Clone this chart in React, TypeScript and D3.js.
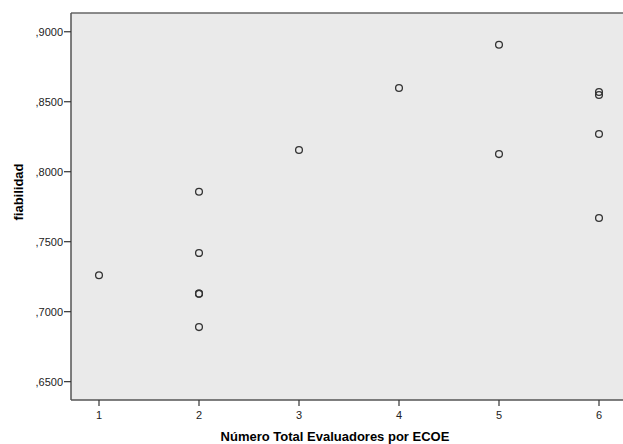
import React from "react";
import * as d3 from "d3";

const xValues = [1, 2, 2, 2, 2, 2, 3, 4, 5, 5, 6, 6, 6, 6];
const yValues = [0.726, 0.7857, 0.7419, 0.7129, 0.7129, 0.689, 0.8155, 0.8598, 0.8907, 0.8126, 0.857, 0.8548, 0.8269, 0.7669];
const xTicks = [1, 2, 3, 4, 5, 6];
const yTicks = [0.65, 0.7, 0.75, 0.8, 0.85, 0.9];
const xTitle = "Número Total Evaluadores por ECOE";
const yTitle = "fiabilidad";

const W = 623;
const H = 444;
const left = 71;
const top = 13;
const bottom = 400;
const right = 627;

export default function App() {
  const x = d3.scaleLinear().domain([0.72, 6.28]).range([left, right]);
  const y = d3.scaleLinear().domain([0.6369, 0.9134]).range([bottom, top]);
  const fmt = (v: number) => "," + d3.format(".4f")(v).split(".")[1];
  const font = "'Liberation Sans', Arial, sans-serif";
  return (
    <svg width={W} height={H} style={{ position: "absolute", left: 0, top: 0 }}>
      <rect x={0} y={0} width={W} height={H} fill="#ffffff" />
      <rect x={left} y={top} width={right - left} height={bottom - top} fill="#eaeaea" />
      <line x1={left} y1={top} x2={right} y2={top} stroke="#666" strokeWidth={1.5} />
      <line x1={left} y1={top} x2={left} y2={bottom} stroke="#555" strokeWidth={1.5} />
      <line x1={left} y1={bottom} x2={right} y2={bottom} stroke="#555" strokeWidth={1.5} />
      {yTicks.map((t) => (
        <g key={t}>
          <line x1={left - 7} x2={left} y1={y(t)} y2={y(t)} stroke="#333" strokeWidth={1.2} />
          <text x={left - 8} y={y(t)} dy="0.35em" textAnchor="end" fontFamily={font} fontSize={11} fill="#222">
            {fmt(t)}
          </text>
        </g>
      ))}
      {xTicks.map((t) => (
        <g key={t}>
          <line x1={x(t)} x2={x(t)} y1={bottom} y2={bottom + 6} stroke="#333" strokeWidth={1.2} />
          <text x={x(t)} y={bottom + 19} textAnchor="middle" fontFamily={font} fontSize={11} fill="#222">
            {t}
          </text>
        </g>
      ))}
      {xValues.map((xv, i) => (
        <circle key={i} cx={x(xv)} cy={y(yValues[i])} r={3.4} fill="none" stroke="#333" strokeWidth={1.3} />
      ))}
      <text x={335} y={441} textAnchor="middle" fontFamily={font} fontSize={13} fontWeight="bold" fill="#000">
        {xTitle}
      </text>
      <text
        transform={`translate(23,192) rotate(-90)`}
        textAnchor="middle"
        fontFamily={font}
        fontSize={13}
        fontWeight="bold"
        fill="#000"
      >
        {yTitle}
      </text>
    </svg>
  );
}
